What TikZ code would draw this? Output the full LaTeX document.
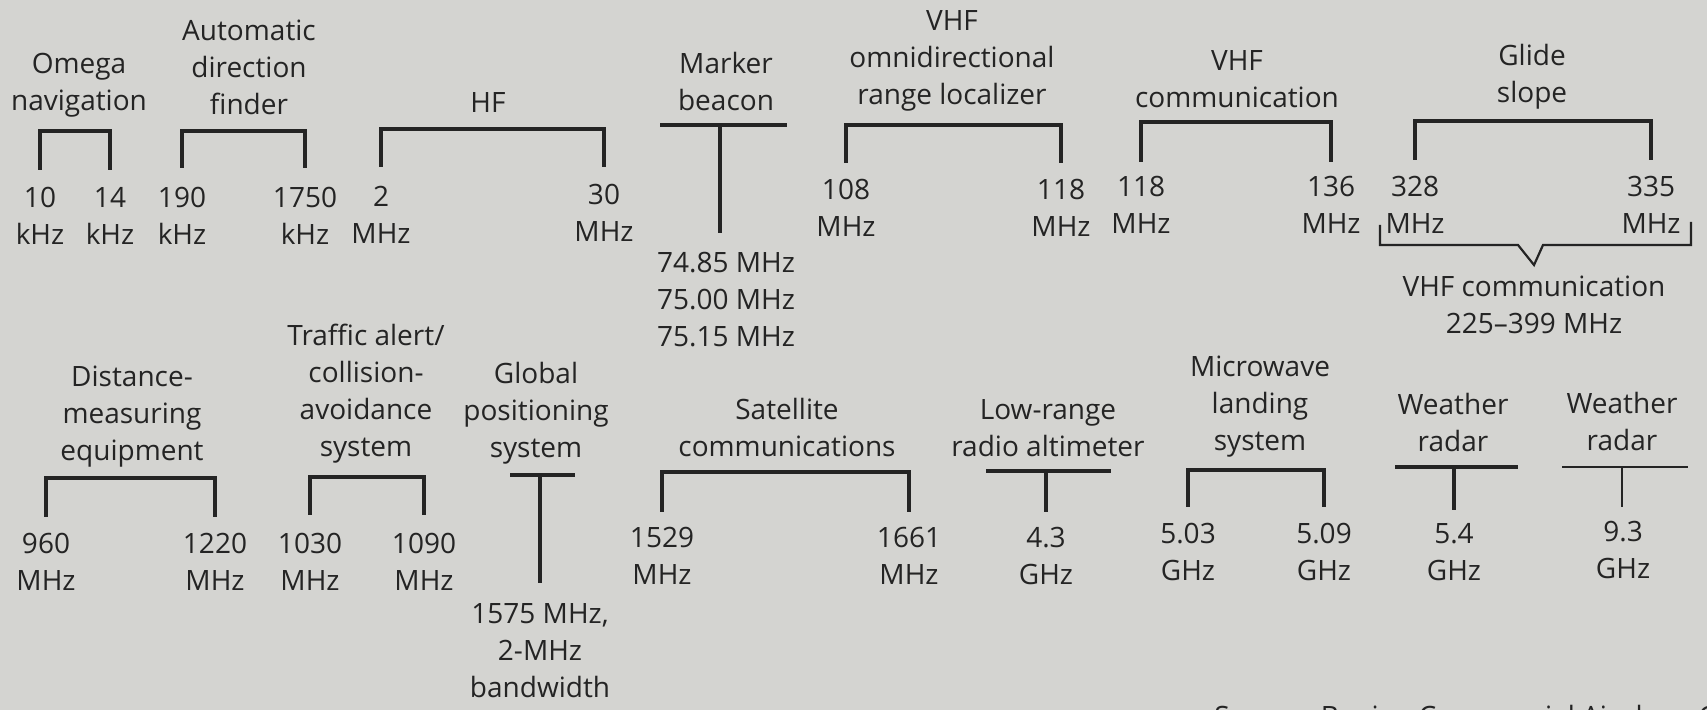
\documentclass[tikz,border=0pt]{standalone}
\usepackage{fontspec}
\setmainfont{Open Sans}
\definecolor{paper}{RGB}{212,212,209}
\definecolor{ink}{RGB}{36,36,36}

\begin{document}
\begin{tikzpicture}[x=0.5pt, y=-0.5pt,
  lbl/.style={align=center, inner sep=0pt, text=ink, font=\fontsize{14}{18.5}\selectfont},
  val/.style={lbl},
  brk/.style={line width=2pt, ink},
  thinbrk/.style={line width=1.1pt, ink}
]
\useasboundingbox (0,0) rectangle (1707,710);
\clip (0,0) rectangle (1707,710);
\fill[paper] (0,0) rectangle (1707,710);

% upper row
\node[lbl] (omegaL) at (79,85) {Omega\\navigation};
\node[val] (omegaA) at (40,216) {10\\kHz};
\node[val] (omegaB) at (110,216) {14\\kHz};
\draw[brk] (omegaA |- 0,170) -- (omegaA |- 0,131) -- (omegaB |- 0,131) -- (omegaB |- 0,170);

\node[lbl] (adfL) at (249,67) {Automatic\\direction\\finder};
\node[val] (adfA) at (182,216) {190\\kHz};
\node[val] (adfB) at (305,216) {1750\\kHz};
\draw[brk] (adfA |- 0,168) -- (adfA |- 0,131) -- (adfB |- 0,131) -- (adfB |- 0,168);

\node[lbl] (hfL) at (488,103) {HF};
\node[val] (hfA) at (381,215) {2\\MHz};
\node[val] (hfB) at (604,213) {30\\MHz};
\draw[brk] (hfA |- 0,167) -- (hfA |- 0,129) -- (hfB |- 0,129) -- (hfB |- 0,167);

\node[lbl] (markL) at (726,82) {Marker\\beacon};
\node[val] (markV) at (726,300) {74.85 MHz\\75.00 MHz\\75.15 MHz};
\coordinate (markT) at (720,125);
\draw[brk] (markT -| 660,0) -- (markT -| 787,0);
\draw[brk] (markT) -- (markT |- 0,233);

\node[lbl] (vorL) at (952,61) {VHF\\omnidirectional\\range localizer};
\node[val] (vorA) at (846,208) {108\\MHz};
\node[val] (vorB) at (1061,208) {118\\MHz};
\draw[brk] (vorA |- 0,163) -- (vorA |- 0,125) -- (vorB |- 0,125) -- (vorB |- 0,163);

\node[lbl] (vhfL) at (1237,79) {VHF\\communication};
\node[val] (vhfA) at (1141,205) {118\\MHz};
\node[val] (vhfB) at (1331,205) {136\\MHz};
\draw[brk] (vhfA |- 0,162) -- (vhfA |- 0,122) -- (vhfB |- 0,122) -- (vhfB |- 0,162);

\node[lbl] (gsL) at (1532,77) {Glide\\slope};
\node[val] (gsA) at (1415,205) {328\\MHz};
\node[val] (gsB) at (1651,205) {335\\MHz};
\draw[brk] (gsA |- 0,160) -- (gsA |- 0,121) -- (gsB |- 0,121) -- (gsB |- 0,160);

% brace under the glide slope values
\node[lbl] (uhfL) at (1534,305) {VHF communication\\225--399 MHz};
\draw[thinbrk] (1380,225) -- (1380,245) -- (1518,245) -- (uhfL.north |- 0,265)
  -- (1543,245) -- (1691,245) -- (1691,222);

% lower row
\node[lbl] (dmeL) at (132,417) {Distance-\\measuring\\equipment};
\node[val] (dmeA) at (46,562) {960\\MHz};
\node[val] (dmeB) at (215,562) {1220\\MHz};
\draw[brk] (dmeA |- 0,517) -- (dmeA |- 0,478) -- (dmeB |- 0,478) -- (dmeB |- 0,517);

\node[lbl] (tcasL) at (366,394) {Traffic alert/\\collision-\\avoidance\\system};
\node[val] (tcasA) at (310,562) {1030\\MHz};
\node[val] (tcasB) at (424,562) {1090\\MHz};
\draw[brk] (tcasA |- 0,515) -- (tcasA |- 0,477) -- (tcasB |- 0,477) -- (tcasB |- 0,515);

\node[lbl] (gpsL) at (536,413) {Global\\positioning\\system};
\node[val] (gpsV) at (540,651) {1575 MHz,\\2-MHz\\bandwidth};
\coordinate (gpsT) at (540,475);
\draw[brk] (gpsT -| 510,0) -- (gpsT -| 575,0);
\draw[brk] (gpsT) -- (gpsT |- 0,583);

\node[lbl] (satL) at (787,428) {Satellite\\communications};
\node[val] (satA) at (662,556) {1529\\MHz};
\node[val] (satB) at (909,556) {1661\\MHz};
\draw[brk] (satA |- 0,512) -- (satA |- 0,472) -- (satB |- 0,472) -- (satB |- 0,512);

\node[lbl] (altL) at (1048,428) {Low-range\\radio altimeter};
\node[val] (altV) at (1046,556) {4.3\\GHz};
\coordinate (altT) at (1046,471);
\draw[brk] (altT -| 986,0) -- (altT -| 1111,0);
\draw[brk] (altT) -- (altT |- 0,512);

\node[lbl] (mlsL) at (1260,407) {Microwave\\landing\\system};
\node[val] (mlsA) at (1188,552) {5.03\\GHz};
\node[val] (mlsB) at (1324,552) {5.09\\GHz};
\draw[brk] (mlsA |- 0,507) -- (mlsA |- 0,470) -- (mlsB |- 0,470) -- (mlsB |- 0,507);

\node[lbl] (wxaL) at (1453,423) {Weather\\radar};
\node[val] (wxaV) at (1454,552) {5.4\\GHz};
\coordinate (wxaT) at (1454,467);
\draw[brk] (wxaT -| 1395,0) -- (wxaT -| 1518,0);
\draw[brk] (wxaT) -- (wxaT |- 0,510);

\node[lbl] (wxbL) at (1622,422) {Weather\\radar};
\node[val] (wxbV) at (1623,550) {9.3\\GHz};
\coordinate (wxbT) at (1622,467);
\draw[thinbrk] (wxbT -| 1562,0) -- (wxbT -| 1688,0);
\draw[thinbrk] (wxbT) -- (wxbT |- 0,507);

\node[lbl, anchor=base west] (srcL) at (1214,726) {Source: Boeing Commercial Airplane Group};
\end{tikzpicture}
\end{document}
